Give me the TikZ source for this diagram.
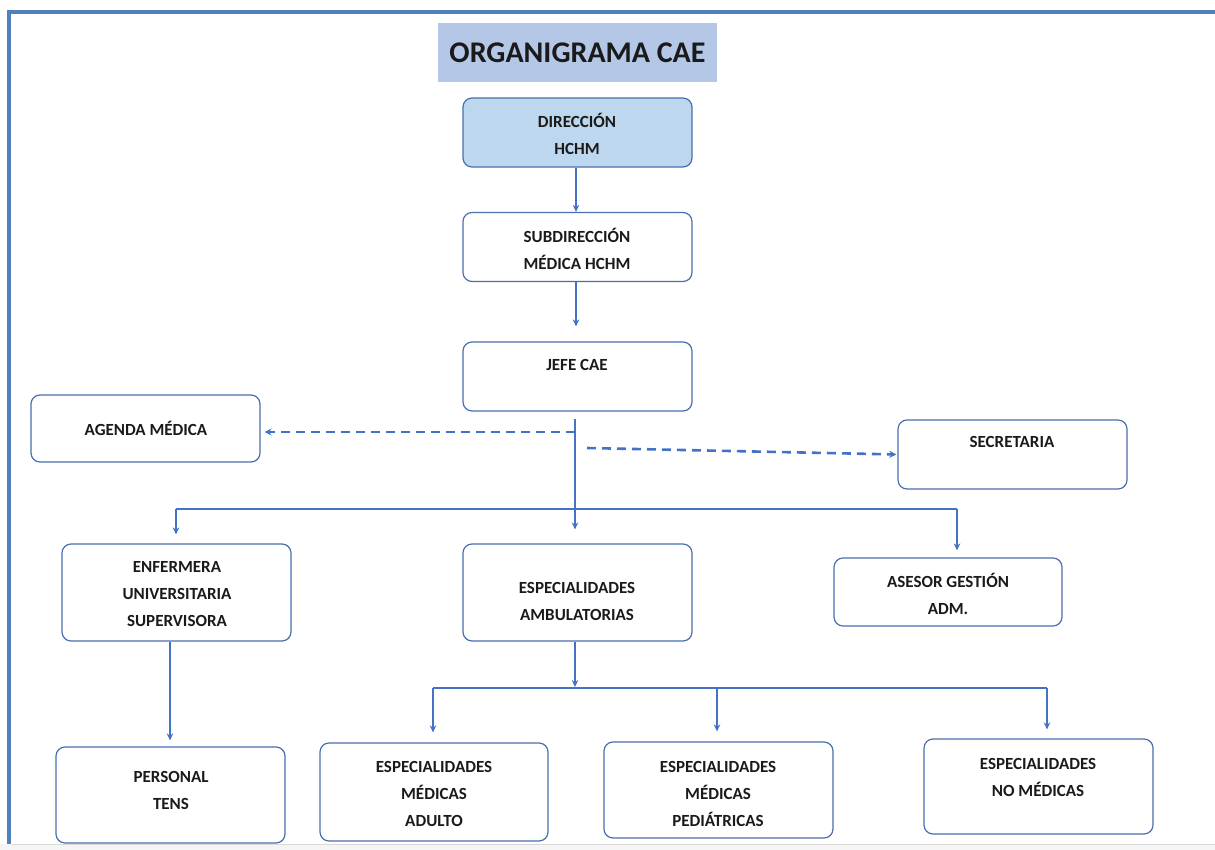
\documentclass[tikz,border=0pt]{standalone}
\usepackage{fontspec}
\setmainfont{Carlito}
\usetikzlibrary{arrows.meta}
\definecolor{frameblue}{HTML}{4F81BD}
\definecolor{linkblue}{HTML}{4472C4}
\definecolor{boxline}{HTML}{4A6FAE}
\definecolor{titlefill}{HTML}{B4C7E7}
\definecolor{dirfill}{HTML}{BDD7EE}
\definecolor{txtcol}{HTML}{1A1A1A}
\begin{document}
\begin{tikzpicture}[x=1pt,y=-1pt,
  box/.style={draw=boxline, line width=1.2pt, rounded corners=9pt, minimum width=229pt, minimum height=69pt, inner sep=0pt},
  txt/.style={font=\fontsize{17}{27}\selectfont\bfseries, align=center, text=txtcol, inner sep=0pt},
  link/.style={draw=linkblue, line width=2pt, -{Stealth[length=7pt,width=6.5pt]}},
  bar/.style={draw=linkblue, line width=2pt},
  dlink/.style={draw=linkblue, line width=2.6pt, dash pattern=on 9pt off 6pt, -{Stealth[length=7pt,width=7pt]}}
]
\useasboundingbox (0,0) rectangle (1215,850);
% frame
\fill[gray!8] (0,844) rectangle (1215,850);
\draw[gray!30, line width=0.8pt] (12,844) -- (1215,844);
\draw[frameblue, line width=4.5pt] (9,844) -- (9,12) -- (1215,12);
% title
\node[fill=titlefill, minimum width=279pt, minimum height=59pt, inner sep=0pt, font=\fontsize{30}{34}\selectfont\bfseries, text=txtcol] (title) at (577.5,52.5) {ORGANIGRAMA CAE};
% boxes
\node[box, fill=dirfill] (dir) at (577.5,132.5) {};
\node[txt] (dirt) at (577,134) {DIRECCIÓN\\HCHM};
\node[box] (sub) at (577.5,247) {};
\node[txt] (subt) at (577,249) {SUBDIRECCIÓN\\MÉDICA HCHM};
\node[box] (jefe) at (577.5,376.5) {};
\node[txt] (jefet) at (577,365) {JEFE CAE};
\node[box, minimum height=67pt] (agenda) at (145.5,428.5) {};
\node[txt] (agendat) at (146,428) {AGENDA MÉDICA};
\node[box] (secr) at (1012.5,454.5) {};
\node[txt] (secrt) at (1012,442) {SECRETARIA};
\node[box, minimum height=97pt] (enf) at (176.5,592.5) {};
\node[txt] (enft) at (177,594) {ENFERMERA\\UNIVERSITARIA\\SUPERVISORA};
\node[box, minimum height=97pt] (esp) at (577.5,592.5) {};
\node[txt] (espt) at (577,601) {ESPECIALIDADES\\AMBULATORIAS};
\node[box, minimum width=228pt, minimum height=68pt] (ases) at (948,592) {};
\node[txt] (asest) at (948,594) {ASESOR GESTIÓN\\ADM.};
\node[box, minimum height=96pt] (pers) at (170.5,795) {};
\node[txt] (perst) at (171,790) {PERSONAL\\TENS};
\node[box, minimum width=228pt, minimum height=98pt] (adul) at (434,792) {};
\node[txt] (adult) at (434,794) {ESPECIALIDADES\\MÉDICAS\\ADULTO};
\node[box, minimum height=96pt] (ped) at (718.5,790) {};
\node[txt] (pedt) at (718,794) {ESPECIALIDADES\\MÉDICAS\\PEDIÁTRICAS};
\node[box, minimum height=95pt] (nomed) at (1038.5,786.5) {};
\node[txt] (nomedt) at (1038,777) {ESPECIALIDADES\\NO MÉDICAS};
% connectors
\coordinate (c1) at (576,0);
\draw[link] (c1 |- dir.south) -- (c1 |- sub.north);
\draw[link, shorten >=15pt] (c1 |- sub.south) -- (c1 |- jefe.north);
\coordinate (trunk) at (575,419);
\draw[link, shorten >=14pt] (trunk) -- (trunk |- esp.north);
\coordinate (dl) at (575,432);
\draw[dlink, shorten >=4pt] (dl) -- (agenda.east |- dl);
\coordinate (dr) at (587,448);
\draw[dlink, shorten >=1pt] (dr) -- (secr.west);
\coordinate (b1l) at (176,509);
\coordinate (b1r) at (957,509);
\draw[bar] (b1l) -- (b1r);
\draw[link, shorten >=9pt] (b1l) -- (b1l |- enf.north);
\draw[link, shorten >=7pt] (b1r) -- (b1r |- ases.north);
\coordinate (c2) at (170,0);
\draw[link, shorten >=6pt] (c2 |- enf.south) -- (c2 |- pers.north);
\coordinate (b2m) at (575,688);
\draw[link, shorten >=1pt] (b2m |- esp.south) -- (b2m);
\coordinate (b2l) at (433,688);
\coordinate (b2c) at (717,688);
\coordinate (b2r) at (1047,688);
\draw[bar] (b2l) -- (b2r);
\draw[link, shorten >=10pt] (b2l) -- (b2l |- adul.north);
\draw[link, shorten >=10pt] (b2c) -- (b2c |- ped.north);
\draw[link, shorten >=9pt] (b2r) -- (b2r |- nomed.north);
\end{tikzpicture}
\end{document}
